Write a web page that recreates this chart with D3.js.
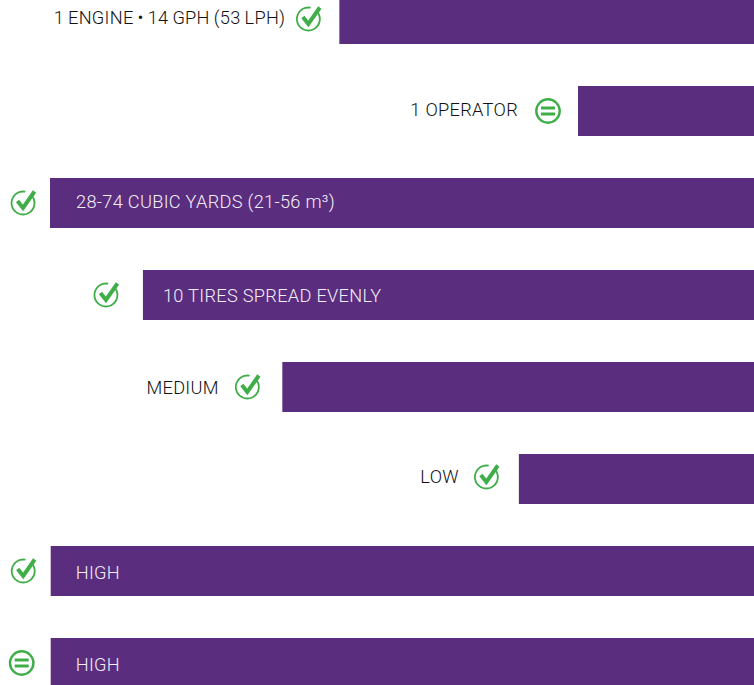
<!DOCTYPE html>
<html>
<head>
<meta charset="utf-8">
<script src="https://cdn.jsdelivr.net/npm/d3@7"></script>
<style>
  html, body { margin: 0; padding: 0; background: #fff; overflow: hidden; }
  text { font-family: Roboto, Lato, sans-serif; font-size: 18.2px; font-weight: 300; letter-spacing: 0.3px; }
</style>
</head>
<body>
<div id="chart"></div>
<script>
const labels = ["1 ENGINE • 14 GPH (53 LPH)", "1 OPERATOR", "28-74 CUBIC YARDS (21-56 m³)", "10 TIRES SPREAD EVENLY", "MEDIUM", "LOW", "HIGH", "HIGH"];
const values = [58.9, 25, 100, 86.8, 67, 33.4, 99.9, 99.9];
const icons = ["check", "equal", "check", "check", "check", "check", "check", "equal"];
const rows = d3.range(labels.length);

const width = 754, height = 685;
const purple = "#5a2d7f", green = "#3fae49";

// hand placement per row, the labels and icons do not sit on a common grid
const labelGap = [54, 60, -26, -20, 63.5, 60, -25, -25];
const labelDy = [-1, -1, -1, 1, 1, -2, 2, 2];
const iconGap = [31, 30, 27, 37, 35, 32.5, 27.5, 29];
const iconDy = [0, 0, 0, 0, 0, -2, 0, 0];

const svg = d3.select("#chart").append("svg")
    .attr("width", width)
    .attr("height", height)
    .style("display", "block");

const x = d3.scaleLinear().domain([0, 100]).range([0, 704]);
const y = d3.scaleBand().domain(rows).range([-6, 688]).paddingInner(42 / 92).paddingOuter(0);

const group = svg.selectAll("g.row")
    .data(rows)
    .enter().append("g")
    .attr("class", "row")
    .attr("transform", i => `translate(0,${y(i)})`);

group.append("rect")
    .attr("x", i => width - x(values[i]))
    .attr("width", i => x(values[i]))
    .attr("height", y.bandwidth())
    .attr("fill", purple);

// negative gap means the label sits inside the bar
group.append("text")
    .attr("x", i => width - x(values[i]) - labelGap[i])
    .attr("y", i => y.bandwidth() / 2 + labelDy[i])
    .attr("dy", "0.35em")
    .attr("text-anchor", i => labelGap[i] < 0 ? "start" : "end")
    .attr("fill", i => labelGap[i] < 0 ? "#f3eef6" : "#111")
    .style("word-spacing", i => i === 0 ? "-0.8px" : null)
    .text(i => labels[i]);

const icon = group.append("g")
    .attr("transform", i => `translate(${width - x(values[i]) - iconGap[i]},${y.bandwidth() / 2 + iconDy[i]})`);

icon.filter(i => icons[i] === "check").each(function () {
    const g = d3.select(this);
    g.append("path")
        .attr("d", d3.arc()({ innerRadius: 10.6, outerRadius: 12.4, startAngle: 0.75, endAngle: 2 * Math.PI + 0.2 }))
        .attr("fill", green);
    g.append("path")
        .attr("d", "M-5.5,-2 L0,5 L11.5,-11.5")
        .attr("fill", "none")
        .attr("stroke", green)
        .attr("stroke-width", 4);
});

icon.filter(i => icons[i] === "equal").each(function () {
    const g = d3.select(this);
    g.append("circle")
        .attr("r", 11.7)
        .attr("fill", "none")
        .attr("stroke", green)
        .attr("stroke-width", 2.4);
    [-3, 3].forEach(dy => {
        g.append("line")
            .attr("x1", -7).attr("x2", 7)
            .attr("y1", dy).attr("y2", dy)
            .attr("stroke", green)
            .attr("stroke-width", 3);
    });
});
</script>
</body>
</html>
